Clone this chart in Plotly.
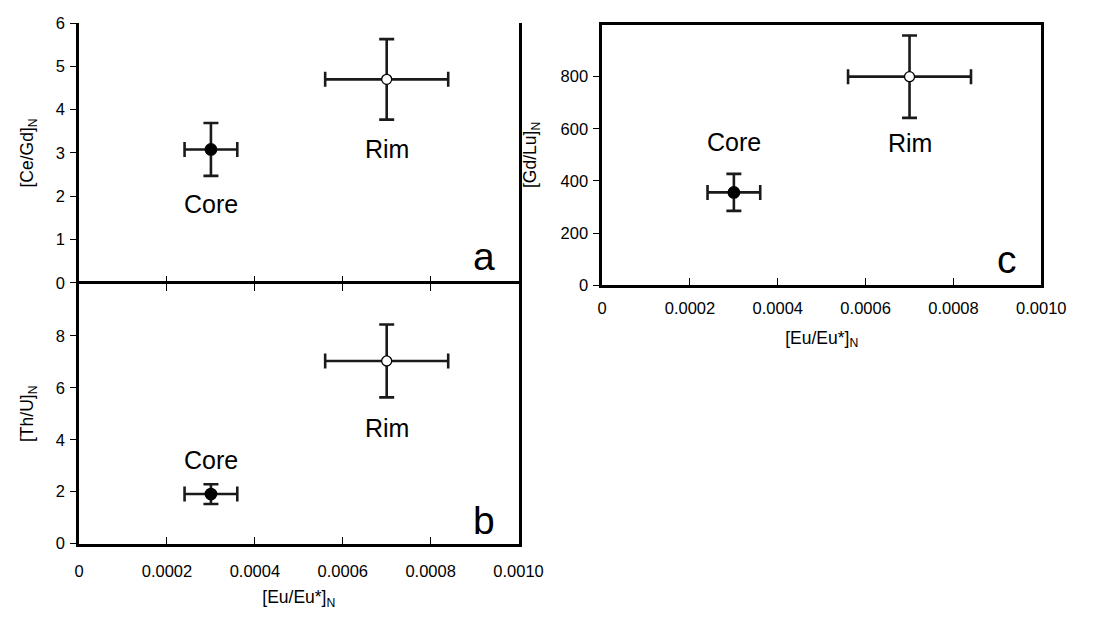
import plotly.graph_objects as go

# ---- data ----
groups = ["Core", "Rim"]
eu_x = [0.0003, 0.0007]
eu_xerr = [0.00006, 0.00014]

ce_gd = [3.08, 4.70]
ce_gd_err = [0.61, 0.93]

th_u = [1.91, 7.03]
th_u_err = [0.38, 1.40]

gd_lu = [356, 800]
gd_lu_err = [71, 158]

# label positions (data coords) for Core / Rim text
lab_a = [1.83, 3.08]
lab_b = [3.21, 4.46]
lab_c = [549, 545]

xticks = [0, 0.0002, 0.0004, 0.0006, 0.0008, 0.0010]
xticktext = ["0", "0.0002", "0.0004", "0.0006", "0.0008", "0.0010"]

FONT = "Arial, Liberation Sans, sans-serif"
INK = "#1a1a1a"

fig = go.Figure()

marker_fill = ["black", "white"]
marker_size = [11.5, 10]


def add_panel(xa, ya, yvals, yerr):
    for i in range(2):
        fig.add_trace(go.Scatter(
            x=[eu_x[i]], y=[yvals[i]], mode="markers",
            xaxis=xa, yaxis=ya, showlegend=False,
            marker=dict(size=marker_size[i], color=marker_fill[i],
                        line=dict(color="black", width=1.3)),
            error_x=dict(type="data", array=[eu_xerr[i]], color=INK,
                         thickness=2.6, width=7.5),
            error_y=dict(type="data", array=[yerr[i]], color=INK,
                         thickness=2.6, width=7.5),
        ))


add_panel("x", "y", ce_gd, ce_gd_err)
add_panel("x2", "y2", th_u, th_u_err)
add_panel("x3", "y3", gd_lu, gd_lu_err)

W, H = 1093, 618
dom_ab_x = [76.2 / W, 528.0 / W]
dom_c_x = [614.0 / W, 1065.5 / W]
dom_a_y = [1 - 282.0 / H, 1 - 14.5 / H]
dom_b_y = [1 - 550.75 / H, 1 - 283.0 / H]
dom_c_y = [1 - 284.5 / H, 1 - 16.0 / H]

LW = 2.5
tickfont = dict(family=FONT, size=16.5, color="black")
common = dict(linecolor="black", linewidth=LW, showgrid=False, zeroline=False,
              tickfont=tickfont, tickcolor="black", tickwidth=1.3)
ytitle_font = dict(family=FONT, size=17.5, color="black")

fig.update_layout(
    width=W, height=H,
    margin=dict(l=0, r=0, t=0, b=0),
    paper_bgcolor="white", plot_bgcolor="white",
    font=dict(family=FONT, color="black"),
    # panel a (its bottom frame line is supplied by panel b's mirrored top line)
    xaxis=dict(domain=dom_ab_x, anchor="y", range=[0, 0.001],
               tickvals=xticks, showticklabels=False, ticks="inside",
               ticklen=7, showline=False, **common),
    yaxis=dict(domain=dom_a_y, anchor="x", range=[0, 6],
               tickvals=[0, 1, 2, 3, 4, 5, 6], ticks="outside", ticklen=6,
               showline=True, mirror=True, ticklabelstandoff=2,
               title=dict(text="[Ce/Gd]<sub>N</sub>", font=ytitle_font,
                          standoff=18),
               **common),
    # panel b
    xaxis2=dict(domain=dom_ab_x, anchor="y2", range=[0, 0.001],
                tickvals=xticks, ticktext=xticktext, ticks="inside",
                ticklen=7, showline=True, mirror="ticks",
                ticklabelstandoff=11,
                title=dict(text="[Eu/Eu*]<sub>N</sub>", font=ytitle_font,
                           standoff=12),
                **common),
    yaxis2=dict(domain=dom_b_y, anchor="x2", range=[0, 10],
                tickvals=[0, 2, 4, 6, 8], ticks="outside", ticklen=6,
                showline=True, mirror=True, ticklabelstandoff=2,
                title=dict(text="[Th/U]<sub>N</sub>", font=ytitle_font,
                           standoff=18),
                **common),
    # panel c
    xaxis3=dict(domain=dom_c_x, anchor="y3", range=[0, 0.001],
                tickvals=xticks, ticktext=xticktext, ticks="inside",
                ticklen=7, showline=True, mirror=True,
                ticklabelstandoff=6,
                title=dict(text="[Eu/Eu*]<sub>N</sub>", font=ytitle_font,
                           standoff=16),
                **common),
    yaxis3=dict(domain=dom_c_y, anchor="x3", range=[0, 1000],
                tickvals=[0, 200, 400, 600, 800], ticks="outside", ticklen=6,
                showline=True, mirror=True, ticklabelstandoff=2,
                title=dict(text="[Gd/Lu]<sub>N</sub>", font=ytitle_font,
                           standoff=20),
                **common),
)

anns = []
for xa, ya, labs in (("x", "y", lab_a), ("x2", "y2", lab_b), ("x3", "y3", lab_c)):
    for i in range(2):
        anns.append(dict(x=eu_x[i], y=labs[i], xref=xa, yref=ya,
                         text=groups[i], showarrow=False,
                         font=dict(family=FONT, size=25, color="black"),
                         xanchor="center", yanchor="middle"))

for xa, ya, letter, yy in (("x", "y", "a", 0.103), ("x2", "y2", "b", 0.089),
                           ("x3", "y3", "c", 0.098)):
    anns.append(dict(x=0.9225, y=yy, xref=xa + " domain", yref=ya + " domain",
                     text=letter, showarrow=False,
                     font=dict(family=FONT, size=39, color="black"),
                     xanchor="center", yanchor="middle"))

fig.update_layout(annotations=anns)

fig.write_html("out.html")
